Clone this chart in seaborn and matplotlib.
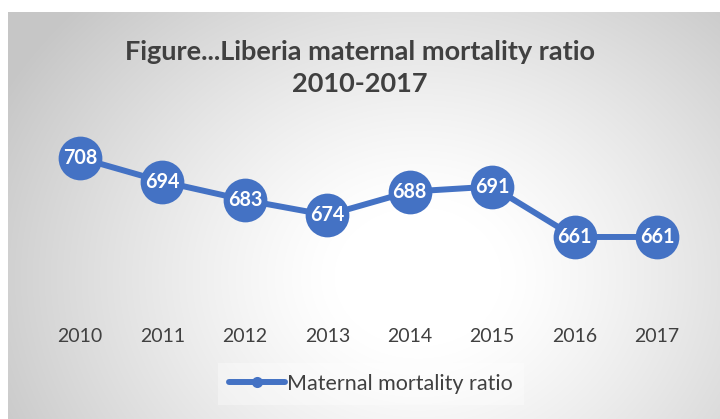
import numpy as np
import pandas as pd
import matplotlib
matplotlib.use("Agg")
import matplotlib.pyplot as plt
import seaborn as sns

years = [2010, 2011, 2012, 2013, 2014, 2015, 2016, 2017]
mmr = [708, 694, 683, 674, 688, 691, 661, 661]
series_name = "Maternal mortality ratio"
title = "Figure...Liberia maternal mortality ratio\n2010-2017"

sns.set_theme(style="white")
plt.rcParams["font.family"] = ["Lato", "DejaVu Sans"]

W, H = 720, 419
fig = plt.figure(figsize=(W / 100, H / 100), dpi=100)
fig.patch.set_facecolor("white")

# background radial gradient panel
bg = fig.add_axes([8 / W, 0, (W - 8) / W, (H - 12) / H], zorder=-5)
yy, xx = np.mgrid[0:407, 0:712]
cx, cy = 410, 265
d = np.sqrt(((xx - cx) / 1.2) ** 2 + (yy - cy) ** 2)
t = np.clip((d - 70) / 320, 0, 1) ** 1.2
g = 1.0 - t * (1.0 - 0.78)
img = np.dstack([g, g, g])
bg.imshow(img, aspect="auto", extent=[0, 1, 0, 1], origin="upper")
bg.set_axis_off()

color = "#4472C4"
px_per_unit = 1.68
top_px, bot_px = 118, 315
ymax = 708 + (158 - top_px) / px_per_unit
ymin = 661 - (bot_px - 237) / px_per_unit
left_px, right_px = 38.8, 698.2
ax = fig.add_axes([left_px / W, 1 - bot_px / H, (right_px - left_px) / W, (bot_px - top_px) / H])
ax.patch.set_alpha(0)

df = pd.DataFrame({"year": years, "value": mmr})
sns.lineplot(data=df, x="year", y="value", ax=ax, color=color, linewidth=4.3,
             marker="o", markersize=31.5, markeredgewidth=0, label=series_name,
             legend=False)
for x, v in zip(years, mmr):
    ax.text(x, v, str(v), ha="center", va="center", color="white",
            fontsize=14.2, fontweight="bold")

ax.set_xlim(2009.5, 2017.5)
ax.set_ylim(ymin, ymax)
ax.set_xticks(years)
ax.set_xticklabels([str(y) for y in years])
ax.set_yticks([])
ax.set_xlabel("")
ax.set_ylabel("")
for s in ax.spines.values():
    s.set_visible(False)
ax.tick_params(axis="x", length=0, pad=9, labelsize=14, labelcolor="#404040")

fig.text(0.5, 1 - 68 / H, title, ha="center", va="center", fontsize=19.5,
         fontweight="bold", color="#404040", linespacing=1.45)

handles, labels = ax.get_legend_handles_labels()
leg = fig.legend(handles, labels, loc="center", bbox_to_anchor=(0.515, 1 - 384 / H),
                 frameon=True, fontsize=15.5, handlelength=2.6, handletextpad=0.1,
                 borderpad=0.5, fancybox=False)
leg.get_frame().set_facecolor("white")
leg.get_frame().set_alpha(0.35)
leg.get_frame().set_edgecolor("none")
for txt in leg.get_texts():
    txt.set_color("#404040")
for h in leg.legend_handles:
    h.set_markersize(8)

fig.savefig("out.png", dpi=100)
